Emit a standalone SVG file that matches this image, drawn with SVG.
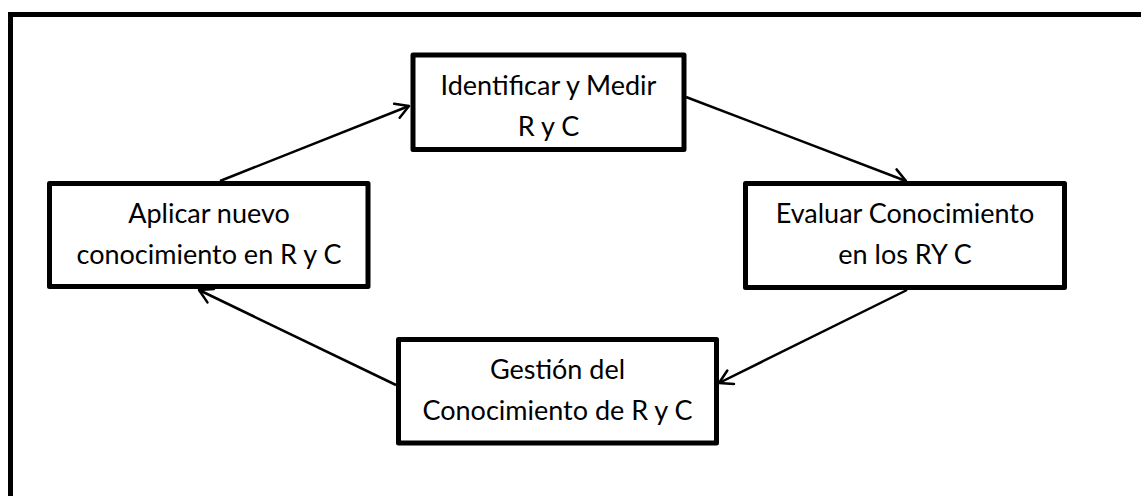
<svg xmlns="http://www.w3.org/2000/svg" width="1141" height="496" viewBox="0 0 1141 496">
  <style>
    .frame { fill: none; stroke: #000; stroke-width: 5; }
    .box { fill: #fff; stroke: #000; stroke-width: 5; stroke-linejoin: round; }
    .label { font-family: "Lato", "Liberation Sans", sans-serif; font-size: 27px; fill: #000; text-anchor: middle; }
    .edge { fill: none; stroke: #000; stroke-width: 2.5; marker-end: url(#open-arrow); }
  </style>
  <defs>
    <marker id="open-arrow" viewBox="-16 -9 18 18" refX="0" refY="0" markerWidth="18" markerHeight="18" markerUnits="userSpaceOnUse" orient="auto">
      <path d="M -13 -7.5 L 0 0 L -13 7.5" fill="none" stroke="#000" stroke-width="2.5" stroke-linecap="round" stroke-linejoin="round"/>
    </marker>
  </defs>
  <rect width="1141" height="496" fill="#fff"/>
  <!-- outer frame, extending past the right and bottom edges -->
  <rect class="frame" x="10.5" y="14.5" width="1160" height="520"/>

  <g id="connectors">
    <line class="edge" x1="220" y1="181" x2="409" y2="106"/>
    <line class="edge" x1="686" y1="97" x2="906" y2="181"/>
    <line class="edge" x1="907" y1="290" x2="719" y2="383"/>
    <line class="edge" x1="396" y1="385" x2="199" y2="290"/>
  </g>

  <g id="identificar">
    <rect class="box" x="413" y="55" width="271" height="94.5"/>
    <text class="label" x="548.5" y="95">Identificar y Medir</text>
    <text class="label" x="548.5" y="136">R y C</text>
  </g>

  <g id="evaluar">
    <rect class="box" x="745.5" y="183.5" width="319" height="104"/>
    <text class="label" x="905" y="223">Evaluar Conocimiento</text>
    <text class="label" x="905" y="264">en los RY C</text>
  </g>

  <g id="gestion">
    <rect class="box" x="398.5" y="339.5" width="318" height="103.5"/>
    <text class="label" x="557.5" y="379">Gestión del</text>
    <text class="label" x="557.5" y="420">Conocimiento de R y C</text>
  </g>

  <g id="aplicar">
    <rect class="box" x="49.5" y="183.5" width="318.5" height="103"/>
    <text class="label" x="209" y="223">Aplicar nuevo</text>
    <text class="label" x="209" y="264">conocimiento en R y C</text>
  </g>
</svg>
